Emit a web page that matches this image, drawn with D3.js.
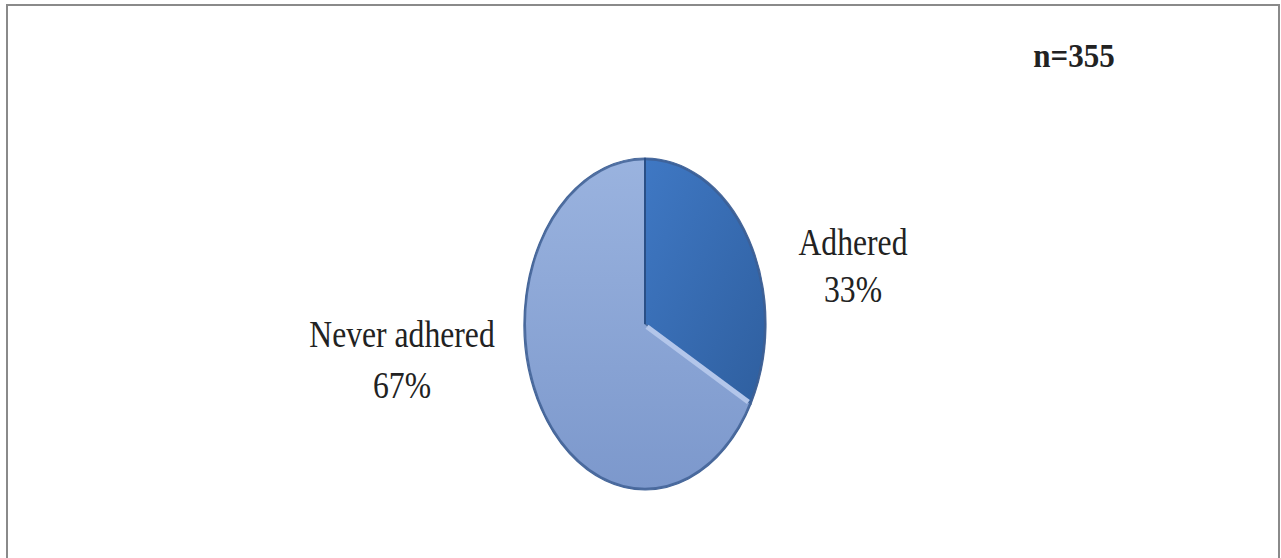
<!DOCTYPE html>
<html><head><meta charset="utf-8">
<script src="https://cdn.jsdelivr.net/npm/d3@7"></script>
<style>html,body{margin:0;padding:0;background:#fff;}svg{display:block;}</style>
</head><body>
<svg id="c" width="1281" height="558"></svg>
<script>
const categories = ["Adhered", "Never adhered"];
const values = [33, 67];
const labels = ["33%", "67%"];
const sampleLabel = "n=355";

const svg = d3.select("#c");

// frame
svg.append("rect").attr("x", 7).attr("y", 5).attr("width", 1272).attr("height", 560)
  .attr("fill", "#fff").attr("stroke", "#8a8a8a").attr("stroke-width", 2);

const defs = svg.append("defs");
const g1 = defs.append("linearGradient").attr("id", "gA").attr("x1", 0).attr("y1", 0).attr("x2", 1).attr("y2", 1);
g1.append("stop").attr("offset", "0%").attr("stop-color", "#3f78c4");
g1.append("stop").attr("offset", "100%").attr("stop-color", "#2f5f9f");
const g2 = defs.append("linearGradient").attr("id", "gN").attr("x1", 0).attr("y1", 0).attr("x2", 0).attr("y2", 1);
g2.append("stop").attr("offset", "0%").attr("stop-color", "#9ab3df");
g2.append("stop").attr("offset", "100%").attr("stop-color", "#7c98cc");

const cx = 645, cy = 324, rx = 121, ry = 166;
const pie = d3.pie().sort(null).value(d => d)(values);
const arc = d3.arc().innerRadius(0).outerRadius(rx);
const pg = svg.append("g").attr("transform", `translate(${cx},${cy}) scale(1,${ry / rx})`);
const fills = ["url(#gA)", "url(#gN)"];
pg.selectAll("path.s").data(pie).join("path").attr("class", "s")
  .attr("d", arc).attr("fill", (d, i) => fills[i])
  .attr("stroke", "#4a6a9c").attr("stroke-width", 1.2).attr("vector-effect", "non-scaling-stroke");
pg.append("circle").attr("r", rx - 1).attr("fill", "none").attr("stroke", "#3e5f93")
  .attr("stroke-width", 2).attr("vector-effect", "non-scaling-stroke").attr("opacity", 0.8);
const e = pie[0].endAngle;
pg.append("line").attr("x1", 2).attr("y1", 2)
  .attr("x2", Math.sin(e) * (rx - 3)).attr("y2", -Math.cos(e) * (rx - 3))
  .attr("stroke", "#b3c6ea").attr("stroke-width", 5).attr("vector-effect", "non-scaling-stroke");
pg.append("line").attr("x1", 0).attr("y1", 0)
  .attr("x2", 0).attr("y2", -rx)
  .attr("stroke", "#2a4f86").attr("stroke-width", 2).attr("vector-effect", "non-scaling-stroke");

const font = "'Liberation Serif','Times New Roman',serif";
const labelPos = [[853, 255, 302], [402, 347, 398]];
function addText(x, y, txt, size, weight, sx, sy) {
  svg.append("text").attr("transform", `translate(${x},${y}) scale(${sx},${sy})`)
    .attr("text-anchor", "middle").attr("font-family", font).attr("font-size", size)
    .attr("font-weight", weight).attr("fill", "#222").text(txt);
}
categories.forEach((c, i) => {
  const [x, y1, y2] = labelPos[i];
  addText(x, y1, c, 33, "normal", 0.96, 1.12);
  addText(x, y2, labels[i], 33, "normal", 0.96, 1.12);
});
addText(1074, 67, sampleLabel, 31, "bold", 1, 1.06);
</script>
</body></html>
